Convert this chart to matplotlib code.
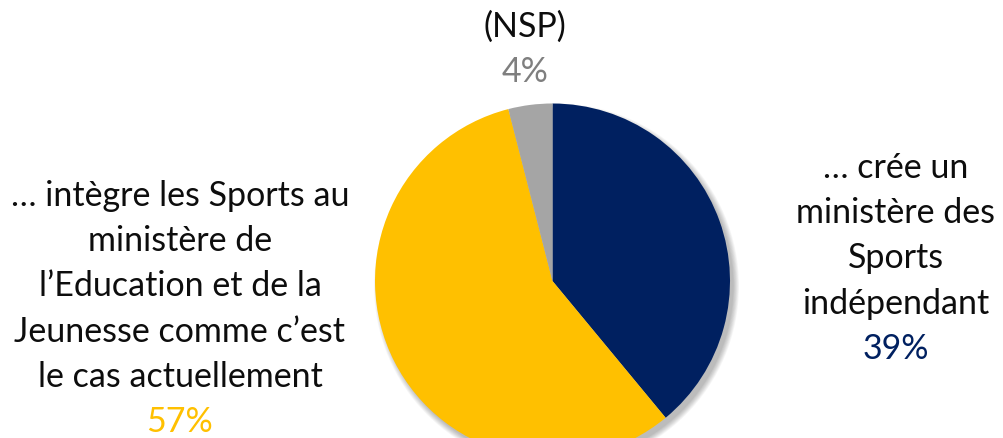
import matplotlib
matplotlib.use("Agg")
import matplotlib.pyplot as plt
from matplotlib.patches import Circle

labels = ["… crée un\nministère des\nSports\nindépendant",
          "… intègre les Sports au\nministère de\nl’Education et de la\nJeunesse comme c’est\nle cas actuellement",
          "(NSP)"]
values = [39, 57, 4]
colors = ["#002060", "#FFC000", "#A5A5A5"]
pct_colors = ["#002060", "#FFC000", "#7F7F7F"]

W, H = 1004, 439
fig = plt.figure(figsize=(W / 100, H / 100), dpi=100)
ax = fig.add_axes([0, 0, 1, 1])

cx, cy, r = 552.5, H - 282, 177.5

# soft shadow lower right
for i in range(8):
    ax.add_patch(Circle((cx + 4, cy - 5), r + 5 - i * 0.8, color="#000000",
                        alpha=0.035, lw=0, zorder=0))

ax.pie(values, colors=colors, startangle=90, counterclock=False,
       center=(cx, cy), radius=r, frame=True,
       wedgeprops=dict(linewidth=0, zorder=1))
ax.set_xlim(0, W)
ax.set_ylim(0, H)
ax.set_aspect("equal")
ax.axis("off")

font = ["Lato", "DejaVu Sans"]
fs = 24.5
step = 45.2


def block(x, y0, text, pct, pct_color):
    lines = text.split("\n")
    for i, line in enumerate(lines):
        ax.text(x, H - (y0 + i * step), line, ha="center", va="baseline",
                fontsize=fs, family=font, color="#0D0D0D")
    ax.text(x, H - (y0 + len(lines) * step), pct, ha="center", va="baseline",
            fontsize=fs, family=font, color=pct_color)


block(896, 178, labels[0], f"{values[0]}%", pct_colors[0])
block(180, 206, labels[1], f"{values[1]}%", pct_colors[1])
block(525, 37, labels[2], f"{values[2]}%", pct_colors[2])

fig.savefig("out.png", dpi=100, facecolor="white")
